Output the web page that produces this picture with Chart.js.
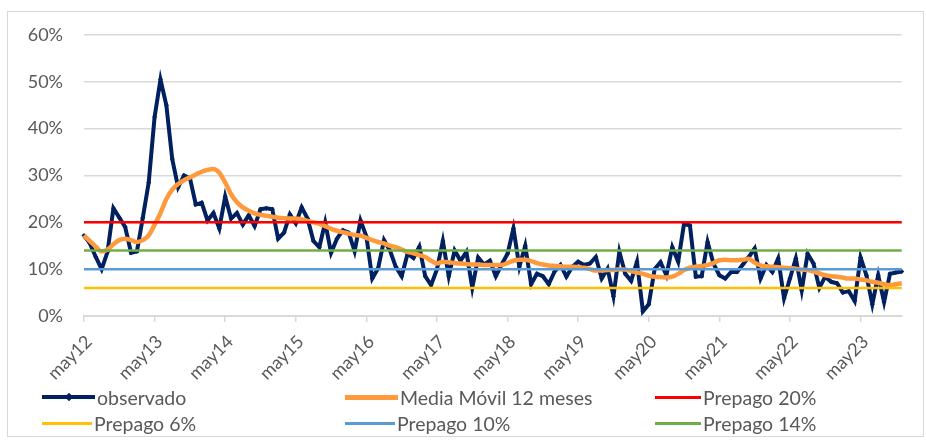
<!DOCTYPE html>
<html>
<head>
<meta charset="utf-8">
<script src="https://cdn.jsdelivr.net/npm/chart.js@4.4.1/dist/chart.umd.min.js"></script>
<style>
  body { margin: 0; background: #fff; font-family: Lato, "Open Sans", sans-serif; }
  #wrap { position: relative; width: 926px; height: 440px; }
  #frame { position: absolute; left: 7px; top: 11px; width: 917px; height: 426px; border: 1px solid #d9d9d9; box-sizing: border-box; }
  canvas { position: absolute; left: 0; top: 0; }
  .leg { position: absolute; height: 22px; display: flex; align-items: center; font-size: 19.5px; color: #595959; white-space: nowrap; }
  .swatch { position: relative; display: inline-block; margin-right: 2px; }
  .diamond { position: absolute; left: 50%; top: 50%; width: 6px; height: 6px; background: #002060; transform: translate(-50%, -50%) rotate(45deg); }
</style>
</head>
<body>
<div id="wrap">
  <div id="frame"></div>
  <canvas id="chart" width="926" height="440"></canvas>
  <div class="leg" style="left:42px; top:386px;"><span class="swatch" style="width:53px;height:4px;background:#002060;"><span class="diamond"></span></span>observado</div>
  <div class="leg" style="left:345px; top:386px;"><span class="swatch" style="width:53px;height:5px;background:#ff9a3c;"></span>Media Móvil 12 meses</div>
  <div class="leg" style="left:655px; top:386px;"><span class="swatch" style="width:46px;height:3px;background:#ff0000;"></span>Prepago 20%</div>
  <div class="leg" style="left:42px; top:412px;"><span class="swatch" style="width:50px;height:3px;background:#ffc000;"></span>Prepago 6%</div>
  <div class="leg" style="left:345px; top:412px;"><span class="swatch" style="width:50px;height:3px;background:#5b9bd5;"></span>Prepago 10%</div>
  <div class="leg" style="left:655px; top:412px;"><span class="swatch" style="width:46px;height:3px;background:#70ad47;"></span>Prepago 14%</div>
</div>
<script>
// months may12 .. dec23
const monthNames = ['may', 'jun', 'jul', 'ago', 'sep', 'oct', 'nov', 'dic', 'ene', 'feb', 'mar', 'abr'];
const firstYear = 12;
const nMonths = 140;

const labels = [];
for (let i = 0; i < nMonths; i++) {
  const m = i % 12;
  const yr = firstYear + Math.floor(i / 12) + (m >= 8 ? 1 : 0);
  labels.push(monthNames[m] + yr);
}

// observed prepayment rate (%)
const observado = [
  17.2, 15.5, 12.6, 10.0, 13.7, 23.0, 21.0, 19.0, 13.5, 13.8, 21.0, 28.5,
  42.5, 50.5, 45.0, 33.5, 27.5, 30.0, 29.5, 23.8, 24.2, 20.4, 22.0, 18.7,
  25.5, 20.8, 22.0, 19.5, 21.5, 19.2, 22.8, 23.0, 22.8, 16.5, 17.8, 21.7,
  19.8, 23.2, 20.8, 16.0, 14.7, 20.0, 13.5, 16.5, 18.3, 17.8, 13.8, 20.4,
  17.0, 8.0, 10.2, 16.2, 14.0, 10.5, 8.5, 13.3, 12.4, 14.8, 8.5, 6.6,
  10.0, 16.0, 8.5, 14.0, 11.8, 13.7, 6.0, 12.5, 11.0, 11.8, 8.5, 11.0,
  13.3, 18.7, 10.5, 15.0, 6.8, 9.0, 8.5, 6.8, 9.5, 10.9, 8.4, 10.5,
  11.6, 10.9, 11.2, 12.6, 8.0, 10.1, 4.2, 13.7, 9.0, 7.5, 11.6, 1.0,
  2.5, 10.0, 11.5, 8.7, 14.7, 11.6, 19.7, 19.3, 8.4, 8.5, 15.8, 11.2,
  8.7, 8.0, 9.4, 9.4, 11.0, 12.6, 14.4, 8.0, 10.9, 9.4, 12.3, 3.8,
  8.0, 12.3, 5.5, 13.3, 11.2, 6.0, 8.4, 7.3, 7.0, 5.0, 5.3, 3.2,
  12.5, 8.7, 2.5, 8.7, 3.0, 9.0, 9.3, 9.5
];

// 12-month moving average (%)
const mediaMovil = [
  17.2, 16.0, 14.8, 13.8, 14.2, 15.3, 16.2, 16.5, 16.2, 15.8, 16.2, 17.2,
  19.5, 22.0, 25.0, 27.0, 28.2, 29.0, 29.6, 30.2, 30.8, 31.2, 31.4, 30.6,
  28.5, 26.0, 24.3, 23.2, 22.5, 21.9, 21.6, 21.4, 21.2, 21.0, 20.9, 20.8,
  20.8, 20.6, 20.3, 20.0, 19.7, 19.2, 18.6, 18.2, 17.9, 17.6, 17.3, 17.2,
  16.7, 16.2, 15.8, 15.5, 15.0, 14.7, 14.2, 13.7, 13.4, 13.0, 12.6, 11.8,
  11.2, 11.6, 11.5, 11.3, 11.2, 11.1, 11.0, 11.0, 10.9, 10.9, 10.9, 10.9,
  11.3, 11.8, 12.0, 12.0, 11.7, 11.3, 11.0, 10.8, 10.7, 10.6, 10.5, 10.5,
  10.4, 10.3, 10.0, 9.7, 9.7, 9.8, 9.8, 10.0, 9.9, 9.6, 9.3, 9.0,
  8.6, 8.4, 8.3, 8.2, 8.4, 9.0, 9.8, 10.3, 10.5, 10.7, 10.9, 11.3,
  11.9, 12.0, 11.9, 11.9, 12.0, 12.2, 11.4, 10.8, 10.6, 10.5, 10.4, 10.3,
  10.2, 10.1, 9.9, 9.8, 9.5, 9.1, 8.7, 8.5, 8.4, 8.2, 8.0, 8.0,
  7.8, 7.6, 7.3, 7.1, 6.8, 6.6, 6.8, 7.0
];

const prepagoLevels = [20, 6, 10, 14];
const prepagoColors = ['#ff0000', '#ffc000', '#5b9bd5', '#70ad47'];
const yTicks = [0, 10, 20, 30, 40, 50, 60];

const prepagoSets = prepagoLevels.map((lvl, i) => ({
  label: 'Prepago ' + lvl + '%',
  data: labels.map(() => lvl),
  borderColor: prepagoColors[i],
  borderWidth: 2.5,
  pointRadius: 0,
  order: 4 - i
}));

new Chart(document.getElementById('chart'), {
  type: 'line',
  data: {
    labels: labels,
    datasets: [
      {
        label: 'observado',
        data: observado,
        borderColor: '#002060',
        backgroundColor: '#002060',
        borderWidth: 4,
        pointStyle: 'rectRot',
        pointRadius: 2.5,
        pointBorderWidth: 0,
        tension: 0,
        order: 10
      },
      {
        label: 'Media Móvil 12 meses',
        data: mediaMovil,
        borderColor: '#ff9a3c',
        borderWidth: 4.5,
        pointRadius: 0,
        cubicInterpolationMode: 'monotone',
        order: 9
      },
      ...prepagoSets
    ]
  },
  options: {
    responsive: false,
    animation: false,
    layout: { padding: { left: 0, right: 21, top: 35, bottom: 0 } },
    plugins: { legend: { display: false }, tooltip: { enabled: false } },
    scales: {
      x: {
        offset: false,
        afterFit: s => { s.height = 124; },
        grid: {
          drawOnChartArea: false,
          drawTicks: true,
          tickLength: 6,
          color: ctx => (ctx.index % 12 === 0 ? '#d9d9d9' : 'rgba(0,0,0,0)'),
          lineWidth: 1.5
        },
        border: { color: '#d9d9d9', width: 2 },
        ticks: {
          autoSkip: false,
          minRotation: 45,
          maxRotation: 45,
          color: '#595959',
          font: { family: 'Lato', size: 18 },
          padding: 9,
          labelOffset: 5,
          callback: function (v, i) { return i % 12 === 0 ? labels[i] : ''; }
        }
      },
      y: {
        min: 0,
        max: 60,
        afterBuildTicks: s => { s.ticks = yTicks.map(v => ({ value: v })); },
        afterFit: s => { s.width = 84; },
        grid: { color: '#d9d9d9', lineWidth: 1.5, drawTicks: false },
        border: { display: false },
        ticks: {
          color: '#595959',
          font: { family: 'Lato', size: 18 },
          padding: 21,
          callback: v => v + '%'
        }
      }
    }
  }
});
</script>
</body>
</html>
